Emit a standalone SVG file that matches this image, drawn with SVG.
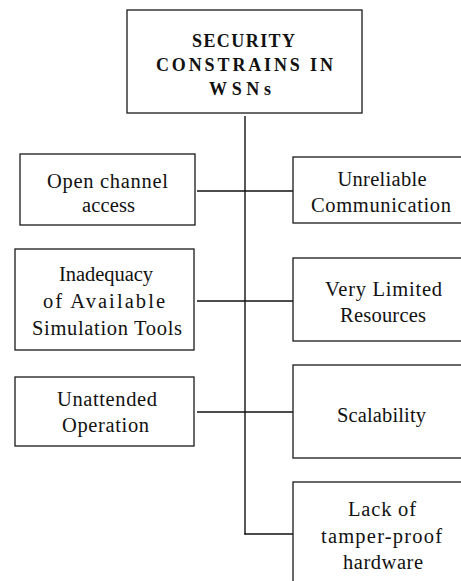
<svg xmlns="http://www.w3.org/2000/svg" width="461" height="581" viewBox="0 0 461 581">
<style>
.box{fill:#fff;stroke:#1a1a1a;stroke-width:1.3}
.t{font-family:'Liberation Serif','Times New Roman',Times,Tinos,'Noto Serif','DejaVu Serif',FreeSerif,serif;font-size:20.5px;fill:#111;text-anchor:middle}
.h{font-family:'Liberation Serif','Times New Roman',Times,Tinos,'Noto Serif','DejaVu Serif',FreeSerif,serif;font-size:18px;font-weight:bold;fill:#111;text-anchor:middle}
.c{stroke:#111;stroke-width:1.4;fill:none}
</style>
<rect width="461" height="581" fill="#fff"/>
<g id="connectors">
<line class="c" x1="245" y1="116" x2="245" y2="534.5"/>
<line class="c" x1="197" y1="191" x2="293" y2="191"/>
<line class="c" x1="197" y1="301" x2="293" y2="301"/>
<line class="c" x1="197" y1="412" x2="293" y2="412"/>
<line class="c" x1="244.3" y1="534" x2="293" y2="534"/>
</g>
<g id="root">
<rect class="box" x="127" y="10" width="235" height="103"/>
<text class="h" x="243.5" y="47" textLength="103" lengthAdjust="spacing">SECURITY</text>
<text class="h" x="244.5" y="71" textLength="177" lengthAdjust="spacing">CONSTRAINS IN</text>
<text class="h" x="240" y="95" textLength="62" lengthAdjust="spacing">WSNs</text>
</g>
<g id="open-channel">
<rect class="box" x="20" y="154" width="175" height="71"/>
<text class="t" x="107.5" y="188" textLength="121" lengthAdjust="spacing">Open channel</text>
<text class="t" x="108.5" y="212" textLength="53" lengthAdjust="spacing">access</text>
</g>
<g id="inadequacy">
<rect class="box" x="15" y="249" width="179" height="101"/>
<text class="t" x="106" y="281" textLength="94" lengthAdjust="spacing">Inadequacy</text>
<text class="t" x="104" y="308" textLength="122" lengthAdjust="spacing">of Available</text>
<text class="t" x="107" y="335" textLength="150" lengthAdjust="spacing">Simulation Tools</text>
</g>
<g id="unattended">
<rect class="box" x="15" y="377" width="179" height="69"/>
<text class="t" x="107" y="406" textLength="100" lengthAdjust="spacing">Unattended</text>
<text class="t" x="105.5" y="432" textLength="87" lengthAdjust="spacing">Operation</text>
</g>
<g id="unreliable">
<rect class="box" x="293" y="157" width="178" height="66"/>
<text class="t" x="382" y="186" textLength="89" lengthAdjust="spacing">Unreliable</text>
<text class="t" x="381" y="212" textLength="140" lengthAdjust="spacing">Communication</text>
</g>
<g id="limited-resources">
<rect class="box" x="293" y="258" width="178" height="83"/>
<text class="t" x="383.5" y="296" textLength="117" lengthAdjust="spacing">Very Limited</text>
<text class="t" x="383" y="322" textLength="86" lengthAdjust="spacing">Resources</text>
</g>
<g id="scalability">
<rect class="box" x="293" y="365" width="178" height="93"/>
<text class="t" x="381.5" y="422" textLength="89" lengthAdjust="spacing">Scalability</text>
</g>
<g id="tamper-proof">
<rect class="box" x="293" y="482" width="178" height="110"/>
<text class="t" x="382" y="516" textLength="68" lengthAdjust="spacing">Lack of</text>
<text class="t" x="381.5" y="543" textLength="121" lengthAdjust="spacing">tamper-proof</text>
<text class="t" x="383" y="569" textLength="80" lengthAdjust="spacing">hardware</text>
</g>
</svg>
